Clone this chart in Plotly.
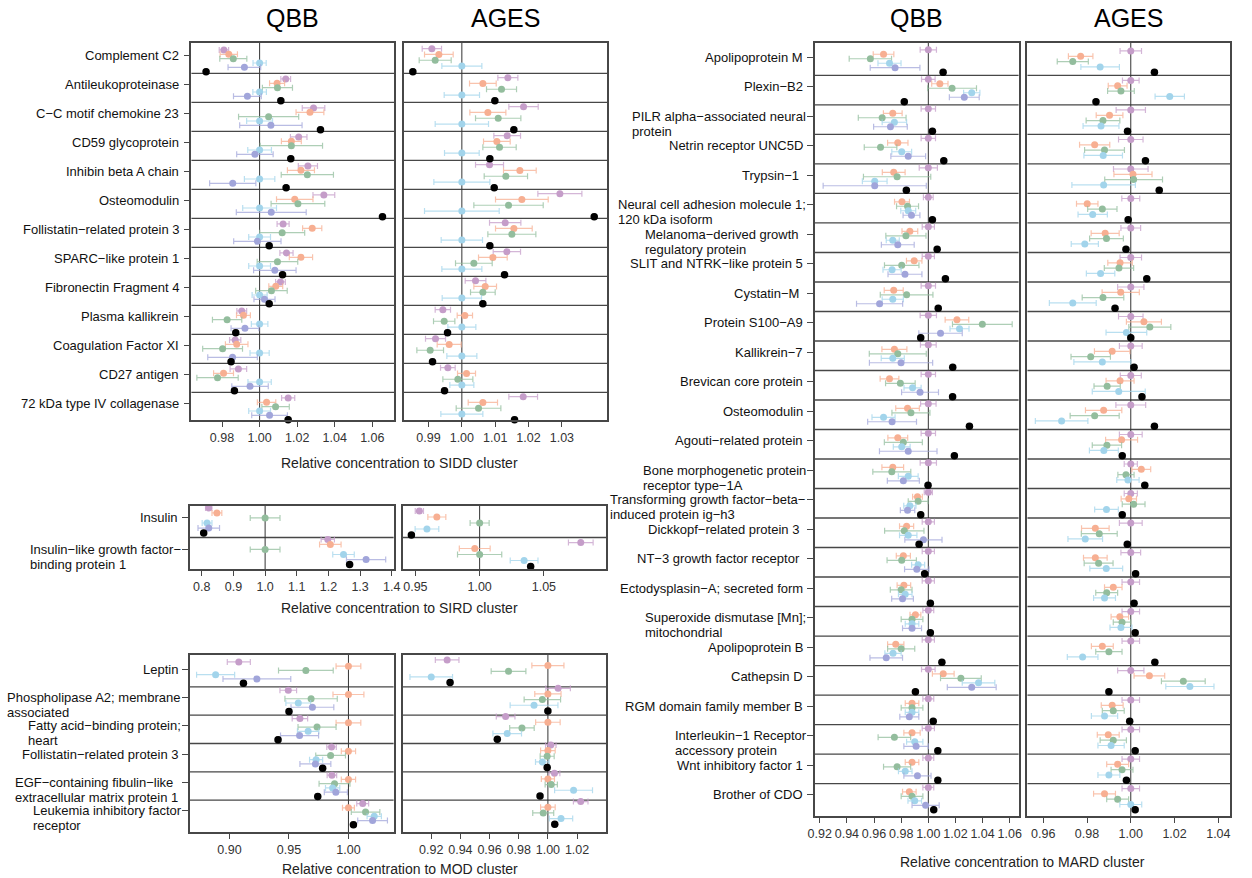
import plotly.graph_objects as go

W, H = 1252, 878
FONT = "Liberation Sans, Arial, Helvetica, sans-serif"

# ---------------- colours ----------------
COL = {"purple": "#C59DC9", "orange": "#F7AF92", "green": "#93BD9D",
       "lightblue": "#A2D4EB", "blue": "#A1A5DA", "black": "#000000"}
ERR = {"purple": "rgba(197,157,201,0.75)", "orange": "rgba(247,175,146,0.75)",
       "green": "rgba(147,189,157,0.75)", "lightblue": "rgba(162,212,235,0.75)",
       "blue": "rgba(161,165,218,0.75)", "black": "#000000"}

# ================= SIDD =================
SIDD_proteins = ["Complement C2", "Antileukoproteinase", "C−C motif chemokine 23",
                 "CD59 glycoprotein", "Inhibin beta A chain", "Osteomodulin",
                 "Follistatin−related protein 3", "SPARC−like protein 1",
                 "Fibronectin Fragment 4", "Plasma kallikrein", "Coagulation Factor XI",
                 "CD27 antigen", "72 kDa type IV collagenase"]
SIDD_QBB_purple = [0.981, 1.0139, 1.0287, 1.0208, 1.0257, 1.0342, 1.0125, 1.0143, 1.0111, 0.9905, 0.987, 0.9887, 1.0152]
SIDD_QBB_purple_err = [0.0025, 0.0026, 0.006, 0.0044, 0.0051, 0.0058, 0.0032, 0.0035, 0.0026, 0.0026, 0.003, 0.0044, 0.0035]
SIDD_QBB_orange = [0.9836, 1.0093, 1.0268, 1.0169, 1.022, 1.0187, 1.028, 1.022, 1.0086, 0.9914, 0.9878, 0.9808, 1.0037]
SIDD_QBB_orange_err = [0.0046, 0.004, 0.0074, 0.0053, 0.0072, 0.0097, 0.0051, 0.0062, 0.0037, 0.0037, 0.006, 0.0053, 0.0049]
SIDD_QBB_green = [0.986, 1.0095, 1.0048, 1.0169, 1.0254, 1.0204, 1.012, 1.0095, 1.0063, 0.9827, 0.9803, 0.9776, 1.0085]
SIDD_QBB_green_err = [0.0072, 0.008, 0.016, 0.0166, 0.0139, 0.0143, 0.012, 0.0108, 0.0084, 0.0078, 0.0106, 0.011, 0.0073]
SIDD_QBB_lightblue = [1.0, 1.0, 1.0, 1.0, 1.0, 1.0, 1.0, 1.0, 1.0, 1.0, 1.0, 1.0, 1.0]
SIDD_QBB_lightblue_err = [0.0035, 0.0036, 0.0069, 0.0063, 0.0081, 0.009, 0.0058, 0.0058, 0.004, 0.0044, 0.0051, 0.0062, 0.0058]
SIDD_QBB_blue = [0.9919, 0.9935, 1.006, 0.9975, 0.9857, 1.0062, 0.9988, 1.0081, 1.0026, 0.9922, 0.9856, 0.9949, 1.0053]
SIDD_QBB_blue_err = [0.0087, 0.0074, 0.0166, 0.0097, 0.0123, 0.0186, 0.0126, 0.0113, 0.0056, 0.0074, 0.0132, 0.0097, 0.0095]
SIDD_QBB_black = [0.9715, 1.0113, 1.0324, 1.0166, 1.0141, 1.0654, 1.0051, 1.0122, 1.0051, 0.9873, 0.9848, 0.9866, 1.0152]

SIDD_AGES_purple = [0.991, 1.0138, 1.0185, 1.0136, 1.0083, 1.0294, 1.013, 1.0135, 1.0041, 0.9943, 0.9921, 0.9958, 1.0184]
SIDD_AGES_purple_err = [0.0029, 0.003, 0.0044, 0.004, 0.0042, 0.0066, 0.0047, 0.0041, 0.0031, 0.0023, 0.003, 0.0022, 0.0043]
SIDD_AGES_orange = [0.9931, 1.0063, 1.0078, 1.0105, 1.0174, 1.018, 1.0156, 1.0093, 1.007, 1.0009, 0.9962, 1.0014, 1.0063]
SIDD_AGES_orange_err = [0.0043, 0.004, 0.0054, 0.004, 0.0049, 0.0079, 0.0055, 0.0043, 0.0034, 0.0023, 0.0036, 0.0027, 0.0044]
SIDD_AGES_green = [0.992, 1.0119, 1.0109, 1.0113, 1.0132, 1.014, 1.015, 1.0036, 1.0063, 0.9947, 0.9905, 0.9988, 1.005]
SIDD_AGES_green_err = [0.0048, 0.0045, 0.0068, 0.005, 0.0065, 0.0104, 0.0072, 0.0055, 0.0037, 0.0032, 0.004, 0.0045, 0.0067]
SIDD_AGES_lightblue = [1.0, 1.0, 1.0, 1.0, 1.0, 1.0, 1.0, 1.0, 1.0, 1.0, 1.0, 1.0, 1.0]
SIDD_AGES_lightblue_err = [0.006, 0.0053, 0.008, 0.0052, 0.0084, 0.0112, 0.0062, 0.006, 0.0059, 0.0042, 0.0045, 0.0036, 0.0063]
SIDD_AGES_black = [0.9853, 1.0099, 1.0156, 1.0084, 1.0097, 1.0397, 1.0084, 1.0128, 1.0063, 0.9957, 0.9912, 0.9948, 1.0158]

# ================= SIRD =================
SIRD_proteins = ["Insulin", "Insulin−like growth factor−<br>binding protein 1"]
SIRD_QBB_purple = [0.8218, 1.198]
SIRD_QBB_purple_err = [0.01, 0.021]
SIRD_QBB_orange = [0.8477, 1.206]
SIRD_QBB_orange_err = [0.0155, 0.034]
SIRD_QBB_green = [1.0, 1.0]
SIRD_QBB_green_err = [0.047, 0.047]
SIRD_QBB_lightblue = [0.8166, 1.2477]
SIRD_QBB_lightblue_err = [0.0155, 0.034]
SIRD_QBB_blue = [0.822, 1.319]
SIRD_QBB_blue_err = [0.034, 0.062]
SIRD_QBB_black = [0.806, 1.267]

SIRD_AGES_purple = [0.9531, 1.0787]
SIRD_AGES_purple_err = [0.0032, 0.0096]
SIRD_AGES_orange = [0.9667, 0.9962]
SIRD_AGES_orange_err = [0.007, 0.012]
SIRD_AGES_green = [1.0, 1.0]
SIRD_AGES_green_err = [0.0074, 0.0172]
SIRD_AGES_lightblue = [0.959, 1.0346]
SIRD_AGES_lightblue_err = [0.0092, 0.0108]
SIRD_AGES_black = [0.9469, 1.0397]

# ================= MOD =================
MOD_proteins = ["Leptin", "Phospholipase A2; membrane<br>associated",
                "Fatty acid−binding protein;<br>heart", "Follistatin−related protein 3",
                "EGF−containing fibulin−like \u00a0<br>extracellular matrix protein 1",
                "Leukemia inhibitory factor<br>receptor"]
MOD_QBB_purple = [0.9078, 0.9494, 0.9592, 0.9858, 0.9861, 1.012]
MOD_QBB_purple_err = [0.0097, 0.007, 0.0065, 0.004, 0.004, 0.005]
MOD_QBB_orange = [1.0, 1.0, 1.0, 1.0, 1.0, 1.0]
MOD_QBB_orange_err = [0.0104, 0.013, 0.0104, 0.006, 0.006, 0.005]
MOD_QBB_green = [0.9642, 0.9686, 0.9736, 0.985, 0.9883, 1.0144]
MOD_QBB_green_err = [0.023, 0.022, 0.016, 0.0125, 0.013, 0.012]
MOD_QBB_lightblue = [0.8883, 0.9578, 0.9661, 0.9728, 0.9867, 1.0217]
MOD_QBB_lightblue_err = [0.016, 0.0104, 0.009, 0.0055, 0.006, 0.006]
MOD_QBB_blue = [0.923, 0.9697, 0.9589, 0.9722, 0.9894, 1.0203]
MOD_QBB_blue_err = [0.0285, 0.018, 0.016, 0.013, 0.0097, 0.0125]
MOD_QBB_black = [0.9117, 0.95, 0.9408, 0.9783, 0.9742, 1.0042]

MOD_AGES_purple = [0.9309, 1.007, 0.971, 1.002, 1.0045, 1.0225]
MOD_AGES_purple_err = [0.0081, 0.0084, 0.0064, 0.0036, 0.0037, 0.005]
MOD_AGES_orange = [1.0, 1.0, 1.0, 1.0, 1.0, 1.0]
MOD_AGES_orange_err = [0.011, 0.009, 0.0084, 0.005, 0.0045, 0.005]
MOD_AGES_green = [0.973, 0.9962, 0.9822, 0.9995, 1.0023, 0.9968]
MOD_AGES_green_err = [0.0119, 0.0125, 0.0084, 0.0048, 0.0042, 0.0072]
MOD_AGES_lightblue = [0.92, 0.9905, 0.9721, 0.9962, 1.0176, 1.009]
MOD_AGES_lightblue_err = [0.0146, 0.0164, 0.0098, 0.0047, 0.013, 0.008]
MOD_AGES_black = [0.9329, 1.0, 0.9653, 0.9995, 0.9946, 1.0047]

# ================= MARD =================
MARD_proteins = ["Apolipoprotein M", "Plexin−B2", "PILR alpha−associated neural<br>protein",
                 "Netrin receptor UNC5D", "Trypsin−1\u00a0",
                 "Neural cell adhesion molecule 1;<br>120 kDa isoform",
                 "Melanoma−derived growth \u00a0<br>regulatory protein",
                 "SLIT and NTRK−like protein 5", "Cystatin−M\u00a0", "Protein S100−A9",
                 "Kallikrein−7", "Brevican core protein", "Osteomodulin",
                 "Agouti−related protein", "Bone morphogenetic protein<br>receptor type−1A",
                 "Transforming growth factor−beta−<br>induced protein ig−h3",
                 "Dickkopf−related protein 3\u00a0", "NT−3 growth factor receptor\u00a0",
                 "Ectodysplasin−A; secreted form", "Superoxide dismutase [Mn];<br>mitochondrial",
                 "Apolipoprotein B", "Cathepsin D", "RGM domain family member B",
                 "Interleukin−1 Receptor<br>accessory protein", "Wnt inhibitory factor 1",
                 "Brother of CDO"]
MARD_QBB_purple = [1.0] * 26
MARD_QBB_purple_err = [0.006, 0.005, 0.0053, 0.0053, 0.0067, 0.0036, 0.0045, 0.0045, 0.0053, 0.006, 0.0058, 0.0053, 0.0057,
                       0.0053, 0.006, 0.003, 0.0045, 0.0045, 0.0045, 0.004, 0.0045, 0.005, 0.004, 0.0045, 0.004, 0.004]
MARD_QBB_orange = [0.967, 1.0085, 0.9738, 0.9775, 0.9745, 0.9806, 0.9864, 0.9896, 0.9745, 1.0211, 0.975, 0.9714, 0.9847,
                   0.9775, 0.9738, 0.992, 0.984, 0.9816, 0.982, 0.9905, 0.976, 1.011, 0.988, 0.988, 0.988, 0.986]
MARD_QBB_orange_err = [0.0076, 0.006, 0.0069, 0.0075, 0.0084, 0.0055, 0.0058, 0.0057, 0.007, 0.0087, 0.0092, 0.0069, 0.0087,
                       0.0073, 0.008, 0.0036, 0.0052, 0.0052, 0.005, 0.004, 0.006, 0.008, 0.005, 0.006, 0.005, 0.005]
MARD_QBB_green = [0.9573, 1.0175, 0.966, 0.9648, 0.977, 0.9847, 0.9835, 0.9804, 0.984, 1.0398, 0.9775, 0.9794, 0.9872,
                  0.9816, 0.9731, 0.9925, 0.9823, 0.9804, 0.98, 0.988, 0.98, 1.024, 0.988, 0.975, 0.977, 0.988]
MARD_QBB_green_err = [0.0156, 0.018, 0.0176, 0.012, 0.0248, 0.0081, 0.0148, 0.0127, 0.0194, 0.022, 0.021, 0.0109, 0.014,
                      0.014, 0.014, 0.0073, 0.0145, 0.0108, 0.008, 0.008, 0.01, 0.015, 0.008, 0.012, 0.01, 0.008]
MARD_QBB_lightblue = [0.9714, 1.032, 0.975, 0.9804, 0.9605, 0.9852, 0.9738, 0.9733, 0.9738, 1.023, 0.9738, 0.9884, 0.967,
                      0.9804, 0.9852, 0.9864, 0.9852, 0.9925, 0.983, 0.988, 0.974, 1.037, 0.988, 0.99, 0.983, 0.99]
MARD_QBB_lightblue_err = [0.0085, 0.006, 0.009, 0.0073, 0.0091, 0.0055, 0.0048, 0.0067, 0.0078, 0.007, 0.0085, 0.0063, 0.0085,
                          0.0062, 0.0073, 0.0045, 0.0064, 0.0048, 0.005, 0.005, 0.006, 0.012, 0.005, 0.006, 0.005, 0.005]
MARD_QBB_blue = [0.9755, 1.0265, 0.9721, 0.9852, 0.9605, 0.9876, 0.9775, 0.9828, 0.9641, 1.009, 0.9799, 0.9939, 0.9733,
                 0.9852, 0.9816, 0.9847, 0.9964, 0.9915, 0.981, 0.988, 0.969, 1.032, 0.986, 0.991, 0.992, 0.998]
MARD_QBB_blue_err = [0.0183, 0.011, 0.0124, 0.0128, 0.038, 0.0062, 0.0121, 0.0125, 0.017, 0.016, 0.0233, 0.0136, 0.018,
                     0.0212, 0.0118, 0.0053, 0.0137, 0.009, 0.008, 0.007, 0.012, 0.018, 0.007, 0.009, 0.01, 0.01]
MARD_QBB_black = [1.0109, 0.9823, 1.003, 1.0114, 0.9838, 1.003, 1.0065, 1.0126, 1.0073, 0.9944, 1.018, 1.0179, 1.0303,
                  1.0192, 0.9998, 0.9944, 0.9932, 0.9973, 1.0015, 1.0015, 1.01, 0.9905, 1.0036, 1.007, 1.007, 1.004]

MARD_AGES_purple = [1.0] * 26
MARD_AGES_purple_err = [0.0049, 0.0038, 0.0067, 0.0056, 0.0079, 0.0041, 0.0045, 0.0049, 0.006, 0.0056, 0.0052, 0.0048, 0.0068,
                        0.0052, 0.003, 0.003, 0.0052, 0.0045, 0.004, 0.004, 0.004, 0.006, 0.004, 0.004, 0.004, 0.004]
MARD_AGES_orange = [0.9771, 0.994, 0.9903, 0.9835, 1.001, 0.9801, 0.9883, 0.9951, 0.9954, 1.006, 0.9915, 0.9951, 0.9876,
                    0.9958, 1.0048, 0.9991, 0.9838, 0.9838, 0.992, 0.995, 0.987, 1.0085, 0.9915, 0.9897, 0.994, 0.988]
MARD_AGES_orange_err = [0.0056, 0.0043, 0.0061, 0.0069, 0.0087, 0.0049, 0.0064, 0.0056, 0.0085, 0.008, 0.0081, 0.0064, 0.0083,
                        0.0073, 0.0043, 0.0035, 0.0063, 0.0054, 0.004, 0.004, 0.005, 0.007, 0.005, 0.005, 0.005, 0.005]
MARD_AGES_green = [0.9735, 0.9955, 0.9873, 0.988, 1.0013, 0.987, 0.9889, 0.9946, 0.9873, 1.0087, 0.9817, 0.9892, 0.9835,
                   0.9891, 0.9978, 1.0013, 0.9856, 0.9853, 0.989, 0.996, 0.99, 1.024, 0.992, 0.992, 0.996, 0.994]
MARD_AGES_green_err = [0.0071, 0.0061, 0.0077, 0.0091, 0.0132, 0.0067, 0.0077, 0.0067, 0.0095, 0.0096, 0.009, 0.006, 0.0112,
                       0.0067, 0.0037, 0.0052, 0.0082, 0.0066, 0.005, 0.004, 0.006, 0.01, 0.005, 0.006, 0.005, 0.005]
MARD_AGES_lightblue = [0.986, 1.0178, 0.9864, 0.9874, 0.9876, 0.9826, 0.979, 0.9862, 0.9735, 0.998, 0.987, 0.9945, 0.9684,
                       0.9877, 0.9987, 0.9889, 0.9792, 0.9888, 0.988, 0.9955, 0.978, 1.027, 0.988, 0.991, 0.99, 1.0]
MARD_AGES_lightblue_err = [0.0088, 0.0067, 0.0082, 0.0088, 0.0145, 0.0067, 0.0062, 0.0065, 0.0107, 0.0093, 0.013, 0.0121, 0.012,
                           0.0066, 0.0051, 0.0054, 0.0079, 0.0075, 0.005, 0.005, 0.007, 0.011, 0.006, 0.006, 0.005, 0.005]
MARD_AGES_black = [1.0108, 0.9841, 0.9985, 1.0067, 1.013, 0.9988, 0.9978, 1.0073, 0.9928, 1.0, 1.0015, 1.0051, 1.0108,
                   0.9961, 1.0064, 0.9961, 0.9984, 1.0022, 1.0015, 1.002, 1.011, 0.99, 0.9995, 1.002, 0.998, 1.002]

# ---------------- panel configuration (layout only) ----------------
panels = [
    dict(prot=SIDD_proteins, labels=True, box=(186.5, 391.5, 43, 420), yr=(-0.55, 12.45), slot=(-0.31, 0.15),
         xr=[0.9637, 1.0716], tv=[0.98, 1.00, 1.02, 1.04, 1.06], tt=["0.98", "1.00", "1.02", "1.04", "1.06"],
         ser=[("purple", SIDD_QBB_purple, SIDD_QBB_purple_err), ("orange", SIDD_QBB_orange, SIDD_QBB_orange_err),
              ("green", SIDD_QBB_green, SIDD_QBB_green_err), ("lightblue", SIDD_QBB_lightblue, SIDD_QBB_lightblue_err),
              ("blue", SIDD_QBB_blue, SIDD_QBB_blue_err)], black=SIDD_QBB_black, berr=0.0006),
    dict(prot=SIDD_proteins, labels=False, box=(401, 607, 43, 420), yr=(-0.55, 12.45), slot=(-0.355, 0.2),
         xr=[0.9825, 1.0436], tv=[0.99, 1.00, 1.01, 1.02, 1.03], tt=["0.99", "1.00", "1.01", "1.02", "1.03"],
         ser=[("purple", SIDD_AGES_purple, SIDD_AGES_purple_err), ("orange", SIDD_AGES_orange, SIDD_AGES_orange_err),
              ("green", SIDD_AGES_green, SIDD_AGES_green_err), ("lightblue", SIDD_AGES_lightblue, SIDD_AGES_lightblue_err)],
         black=SIDD_AGES_black, berr=0.0004),
    dict(prot=SIRD_proteins, labels=True, box=(185, 391, 506, 569), yr=(-0.5, 1.5), slot=(-0.44, 0.16),
         xr=[0.7625, 1.406], tv=[0.8, 0.9, 1.0, 1.1, 1.2, 1.3, 1.4], tt=["0.8", "0.9", "1.0", "1.1", "1.2", "1.3", "1.4"],
         ser=[("purple", SIRD_QBB_purple, SIRD_QBB_purple_err), ("orange", SIRD_QBB_orange, SIRD_QBB_orange_err),
              ("green", SIRD_QBB_green, SIRD_QBB_green_err), ("lightblue", SIRD_QBB_lightblue, SIRD_QBB_lightblue_err),
              ("blue", SIRD_QBB_blue, SIRD_QBB_blue_err)], black=SIRD_QBB_black, berr=0.003),
    dict(prot=SIRD_proteins, labels=False, box=(400, 606, 506, 569), yr=(-0.5, 1.5), slot=(-0.34, 0.19),
         xr=[0.94, 1.0985], tv=[0.95, 1.00, 1.05], tt=["0.95", "1.00", "1.05"],
         ser=[("purple", SIRD_AGES_purple, SIRD_AGES_purple_err), ("orange", SIRD_AGES_orange, SIRD_AGES_orange_err),
              ("green", SIRD_AGES_green, SIRD_AGES_green_err), ("lightblue", SIRD_AGES_lightblue, SIRD_AGES_lightblue_err)],
         black=SIRD_AGES_black, berr=0.001),
    dict(prot=MOD_proteins, labels=True, box=(185, 391, 655, 832), yr=(-0.625, 5.625), slot=(-0.38, 0.15),
         xr=[0.8667, 1.038], tv=[0.90, 0.95, 1.00], tt=["0.90", "0.95", "1.00"],
         ser=[("purple", MOD_QBB_purple, MOD_QBB_purple_err), ("orange", MOD_QBB_orange, MOD_QBB_orange_err),
              ("green", MOD_QBB_green, MOD_QBB_green_err), ("lightblue", MOD_QBB_lightblue, MOD_QBB_lightblue_err),
              ("blue", MOD_QBB_blue, MOD_QBB_blue_err)], black=MOD_QBB_black, berr=0.0012),
    dict(prot=MOD_proteins, labels=False, box=(400, 606, 655, 832), yr=(-0.625, 5.625), slot=(-0.45, 0.2),
         xr=[0.9003, 1.04], tv=[0.92, 0.94, 0.96, 0.98, 1.00, 1.02], tt=["0.92", "0.94", "0.96", "0.98", "1.00", "1.02"],
         ser=[("purple", MOD_AGES_purple, MOD_AGES_purple_err), ("orange", MOD_AGES_orange, MOD_AGES_orange_err),
              ("green", MOD_AGES_green, MOD_AGES_green_err), ("lightblue", MOD_AGES_lightblue, MOD_AGES_lightblue_err)],
         black=MOD_AGES_black, berr=0.0009),
    dict(prot=MARD_proteins, labels=True, box=(817, 1023, 43, 816), yr=(-0.6, 25.6), slot=(-0.37, 0.152),
         xr=[0.9164, 1.0665], tv=[0.92, 0.94, 0.96, 0.98, 1.00, 1.02, 1.04, 1.06],
         tt=["0.92", "0.94", "0.96", "0.98", "1.00", "1.02", "1.04", "1.06"],
         ser=[("purple", MARD_QBB_purple, MARD_QBB_purple_err), ("orange", MARD_QBB_orange, MARD_QBB_orange_err),
              ("green", MARD_QBB_green, MARD_QBB_green_err), ("lightblue", MARD_QBB_lightblue, MARD_QBB_lightblue_err),
              ("blue", MARD_QBB_blue, MARD_QBB_blue_err)], black=MARD_QBB_black, berr=0.0006),
    dict(prot=MARD_proteins, labels=False, box=(1032, 1237, 43, 816), yr=(-0.6, 25.6), slot=(-0.33, 0.18),
         xr=[0.9528, 1.0454], tv=[0.96, 0.98, 1.00, 1.02, 1.04], tt=["0.96", "0.98", "1.00", "1.02", "1.04"],
         ser=[("purple", MARD_AGES_purple, MARD_AGES_purple_err), ("orange", MARD_AGES_orange, MARD_AGES_orange_err),
              ("green", MARD_AGES_green, MARD_AGES_green_err), ("lightblue", MARD_AGES_lightblue, MARD_AGES_lightblue_err)],
         black=MARD_AGES_black, berr=0.0004),
]

# Arial / Liberation Sans advance widths (per 1000 em) for laying out left-aligned label blocks
_AW = {" ": 278, "\u00a0": 278, "−": 584, "-": 333, ";": 278, ":": 278, ".": 278, ",": 278, "[": 278, "]": 278,
       "0": 556, "1": 556, "2": 556, "3": 556, "4": 556, "5": 556, "6": 556, "7": 556, "8": 556, "9": 556,
       "A": 667, "B": 667, "C": 722, "D": 722, "E": 667, "F": 611, "G": 778, "H": 722, "I": 278, "J": 500,
       "K": 667, "L": 556, "M": 833, "N": 722, "O": 778, "P": 667, "Q": 778, "R": 722, "S": 667, "T": 611,
       "U": 722, "V": 667, "W": 944, "X": 667, "Y": 667, "Z": 611,
       "a": 556, "b": 556, "c": 500, "d": 556, "e": 556, "f": 278, "g": 556, "h": 556, "i": 222, "j": 222,
       "k": 500, "l": 222, "m": 833, "n": 556, "o": 556, "p": 556, "q": 556, "r": 333, "s": 500, "t": 278,
       "u": 556, "v": 500, "w": 722, "x": 500, "y": 500, "z": 500}


def text_w(s, size):
    return sum(_AW.get(c, 556) for c in s) * size / 1000.0


LABEL_SIZE = 13
LINE_GAP = 15
GAP = 10

fig = go.Figure()
shapes, annotations = [], []
layout = dict(width=W, height=H, margin=dict(l=0, r=0, t=0, b=0), showlegend=False,
              paper_bgcolor="white", plot_bgcolor="white", font=dict(family=FONT, color="#222"))

LINE = "#474747"
for k, p in enumerate(panels, start=1):
    sfx = "" if k == 1 else str(k)
    xa, ya = "x" + sfx, "y" + sfx
    x0, x1, y0, y1 = p["box"]
    n = len(p["prot"])
    layout["xaxis" + sfx] = dict(domain=[x0 / W, x1 / W], range=p["xr"], anchor=ya,
                                 showline=True, mirror=True, linecolor=LINE, linewidth=1.5,
                                 showgrid=False, zeroline=False, ticks="outside", ticklen=5,
                                 tickcolor=LINE, tickvals=p["tv"], ticktext=p["tt"], tickangle=0,
                                 tickfont=dict(size=12.5, color="#333", family=FONT), fixedrange=True)
    yaxis = dict(domain=[1 - y1 / H, 1 - y0 / H], range=[p["yr"][1], p["yr"][0]], anchor=xa,
                 showline=True, mirror=True, linecolor=LINE, linewidth=1.5, showgrid=False,
                 zeroline=False, showticklabels=False, fixedrange=True)
    if p["labels"]:
        yaxis.update(ticks="outside", ticklen=6, tickcolor=LINE, tickwidth=1,
                     tickvals=[i - 0.12 for i in range(n)])
    else:
        yaxis.update(ticks="")
    layout["yaxis" + sfx] = yaxis

    # row separators
    for i in range(n - 1):
        shapes.append(dict(type="line", xref=xa + " domain", x0=0, x1=1, yref=ya, y0=i + 0.5, y1=i + 0.5,
                           line=dict(color=LINE, width=1.3), layer="below"))
    # reference line at 1
    shapes.append(dict(type="line", xref=xa, x0=1, x1=1, yref=ya + " domain", y0=0, y1=1,
                       line=dict(color="#333", width=1), layer="below"))

    start, step = p["slot"]
    allser = p["ser"] + [("black", p["black"], None)]
    for j, (cname, vals, errs) in enumerate(allser):
        ys = [i + start + j * step for i in range(n)]
        if cname == "black":
            ex = dict(type="constant", value=p["berr"], color="#000", thickness=1.5, width=3)
            size = 7.5
        else:
            ex = dict(type="data", array=errs, color=ERR[cname], thickness=1.2, width=3)
            size = 7
        fig.add_trace(go.Scatter(x=vals, y=ys, xaxis=xa, yaxis=ya, mode="markers",
                                 marker=dict(color=COL[cname], size=size, line=dict(width=0)),
                                 error_x=ex, hoverinfo="x", cliponaxis=False))

    # protein labels: block right-aligned to the tick, lines left-aligned inside the block
    if p["labels"]:
        for i, name in enumerate(p["prot"]):
            lines = name.split("<br>")
            if len(lines) == 1:
                annotations.append(dict(text=name, xref=xa + " domain", x=0, xanchor="right", xshift=-GAP,
                                        yref=ya, y=i - 0.12, yanchor="middle", showarrow=False,
                                        font=dict(size=LABEL_SIZE, color="#111", family=FONT)))
            else:
                maxw = max(text_w(s, LABEL_SIZE) for s in lines)
                for li, s in enumerate(lines):
                    annotations.append(dict(text=s, xref=xa + " domain", x=0, xanchor="left",
                                            xshift=-(GAP + 1 + maxw), yref=ya, y=i - 0.12, yanchor="middle",
                                            yshift=-LINE_GAP * li, showarrow=False,
                                            font=dict(size=LABEL_SIZE, color="#111", family=FONT)))

# titles
for txt, px in [("QBB", 289), ("AGES", 504), ("QBB", 920), ("AGES", 1134.5)]:
    annotations.append(dict(text=txt, xref="paper", yref="paper", x=px / W, y=1 - 18 / H,
                            xanchor="center", yanchor="middle", showarrow=False,
                            font=dict(size=25, color="#000", family=FONT)))
for txt, px, py in [("Relative concentration to SIDD cluster", 397, 463),
                    ("Relative concentration to SIRD cluster", 397, 608),
                    ("Relative concentration to MOD cluster", 397, 869),
                    ("Relative concentration to MARD cluster", 1027, 862)]:
    annotations.append(dict(text=txt, xref="paper", yref="paper", x=px / W, y=1 - py / H,
                            xanchor="center", yanchor="middle", showarrow=False,
                            font=dict(size=14, color="#222", family=FONT)))

layout["shapes"] = shapes
layout["annotations"] = annotations
fig.update_layout(**layout)
fig.write_html("out.html")
